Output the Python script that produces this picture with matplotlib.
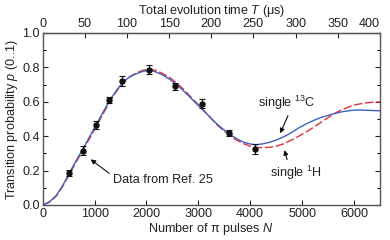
import matplotlib.pyplot as plt
from matplotlib.ticker import MultipleLocator

plt.rcParams['font.family'] = ['Liberation Sans', 'DejaVu Sans']
plt.rcParams['font.size'] = 9.1
plt.rcParams['mathtext.fontset'] = 'custom'
plt.rcParams['mathtext.rm'] = 'Liberation Sans'
plt.rcParams['mathtext.it'] = 'Liberation Sans:italic'

# measured data (Ref. 25)
n_data = [512, 768, 1024, 1280, 1536, 2048, 2560, 3072, 3584, 4096]
p_data = [0.184, 0.316, 0.466, 0.609, 0.72, 0.787, 0.69, 0.588, 0.416, 0.325]
p_err = [0.018, 0.025, 0.022, 0.018, 0.03, 0.028, 0.02, 0.025, 0.018, 0.03]

# simulated curves
n_curve = [0, 130, 269, 400, 525, 650, 781, 910, 1038, 1165, 1294, 1420, 1550, 1680,
           1808, 1935, 2063, 2190, 2320, 2450, 2577, 2705, 2833, 2960, 3089, 3220,
           3346, 3475, 3602, 3730, 3858, 3985, 4115, 4240, 4371, 4500, 4660, 4800,
           4950, 5100, 5237, 5400, 5621, 5765, 5910, 6055, 6198, 6350, 6500]
p_c13 = [0.0, 0.018, 0.058, 0.12, 0.193, 0.26, 0.329, 0.40, 0.47, 0.54, 0.609, 0.665,
         0.715, 0.745, 0.763, 0.777, 0.783, 0.772, 0.754, 0.73, 0.70, 0.666, 0.628,
         0.59, 0.551, 0.512, 0.474, 0.441, 0.412, 0.387, 0.367, 0.355, 0.350, 0.355,
         0.364, 0.377, 0.398, 0.421, 0.450, 0.474, 0.493, 0.512, 0.531, 0.541, 0.548,
         0.552, 0.551, 0.549, 0.547]
p_h1 = [0.0, 0.016, 0.054, 0.115, 0.185, 0.252, 0.32, 0.39, 0.46, 0.53, 0.60, 0.66,
        0.712, 0.745, 0.768, 0.783, 0.79, 0.781, 0.763, 0.74, 0.71, 0.675, 0.635,
        0.595, 0.555, 0.512, 0.47, 0.435, 0.405, 0.378, 0.358, 0.343, 0.334, 0.333,
        0.335, 0.341, 0.357, 0.378, 0.402, 0.428, 0.454, 0.488, 0.531, 0.553, 0.571,
        0.584, 0.592, 0.597, 0.599]

T_MAX = 400.0
N_MAX = 6500.0

fig = plt.figure(figsize=(3.9, 2.4), dpi=100)
ax = fig.add_axes([0.1095, 0.146, 0.8645, 0.717])

ax.plot(n_curve, p_h1, color='#e2303c', lw=1.0, dashes=(6, 2))
ax.plot(n_curve, p_c13, color='#4060c0', lw=1.0)
ax.errorbar(n_data, p_data, yerr=p_err, fmt='o', color='#111111', ms=3.6,
            elinewidth=0.8, capsize=2, capthick=0.8)

ax.set_xlim(0, N_MAX)
ax.set_ylim(0, 1.0)
ax.xaxis.set_major_locator(MultipleLocator(1000))
ax.yaxis.set_major_locator(MultipleLocator(0.2))
ax.yaxis.set_minor_locator(MultipleLocator(0.1))
ax.yaxis.set_major_formatter(lambda v, pos: f"{v:.1f}")
ax.tick_params(direction='in', length=3.5, width=0.8, right=True, pad=2,
               colors='#222222')
ax.tick_params(which='minor', direction='in', length=2, width=0.8, right=True)
for s in ax.spines.values():
    s.set_color('#555555')
    s.set_linewidth(1.0)

ax.set_xlabel("Number of \u03c0 pulses $N$", labelpad=1, color='#222222')
ax.set_ylabel("Transition probability $p$ (0..1)", labelpad=2, color='#222222')

top = ax.secondary_xaxis('top', functions=(lambda n: n * T_MAX / N_MAX,
                                            lambda t: t * N_MAX / T_MAX))
top.xaxis.set_major_locator(MultipleLocator(50))
top.tick_params(direction='in', length=3.5, width=0.8, pad=2, colors='#222222')
top.set_xlabel("Total evolution time $T$ (\u03bcs)", labelpad=3, color='#222222')

arrow = dict(arrowstyle='-|>', color='#111111', lw=0.8,
             mutation_scale=7, shrinkA=1, shrinkB=0)
ax.annotate("single $^{13}$C", xy=(4577, 0.416), xytext=(4708, 0.595),
            ha='center', va='center', color='#222222',
            arrowprops=dict(arrow, relpos=(0.55, 0.0)))
ax.annotate("single $^{1}$H", xy=(4660, 0.319), xytext=(4885, 0.187),
            ha='center', va='center', color='#222222',
            arrowprops=dict(arrow, relpos=(0.35, 1.0)))
ax.annotate("Data from Ref. 25", xy=(923, 0.265), xytext=(1358, 0.145),
            ha='left', va='center', color='#222222',
            arrowprops=dict(arrow, relpos=(0.0, 0.8)))

# last top label sits inside the frame, as in the original
fig.canvas.draw()
for lbl in top.get_xticklabels():
    if lbl.get_text() == '400':
        lbl.set_ha('right')

fig.savefig('out.png', dpi=100)
